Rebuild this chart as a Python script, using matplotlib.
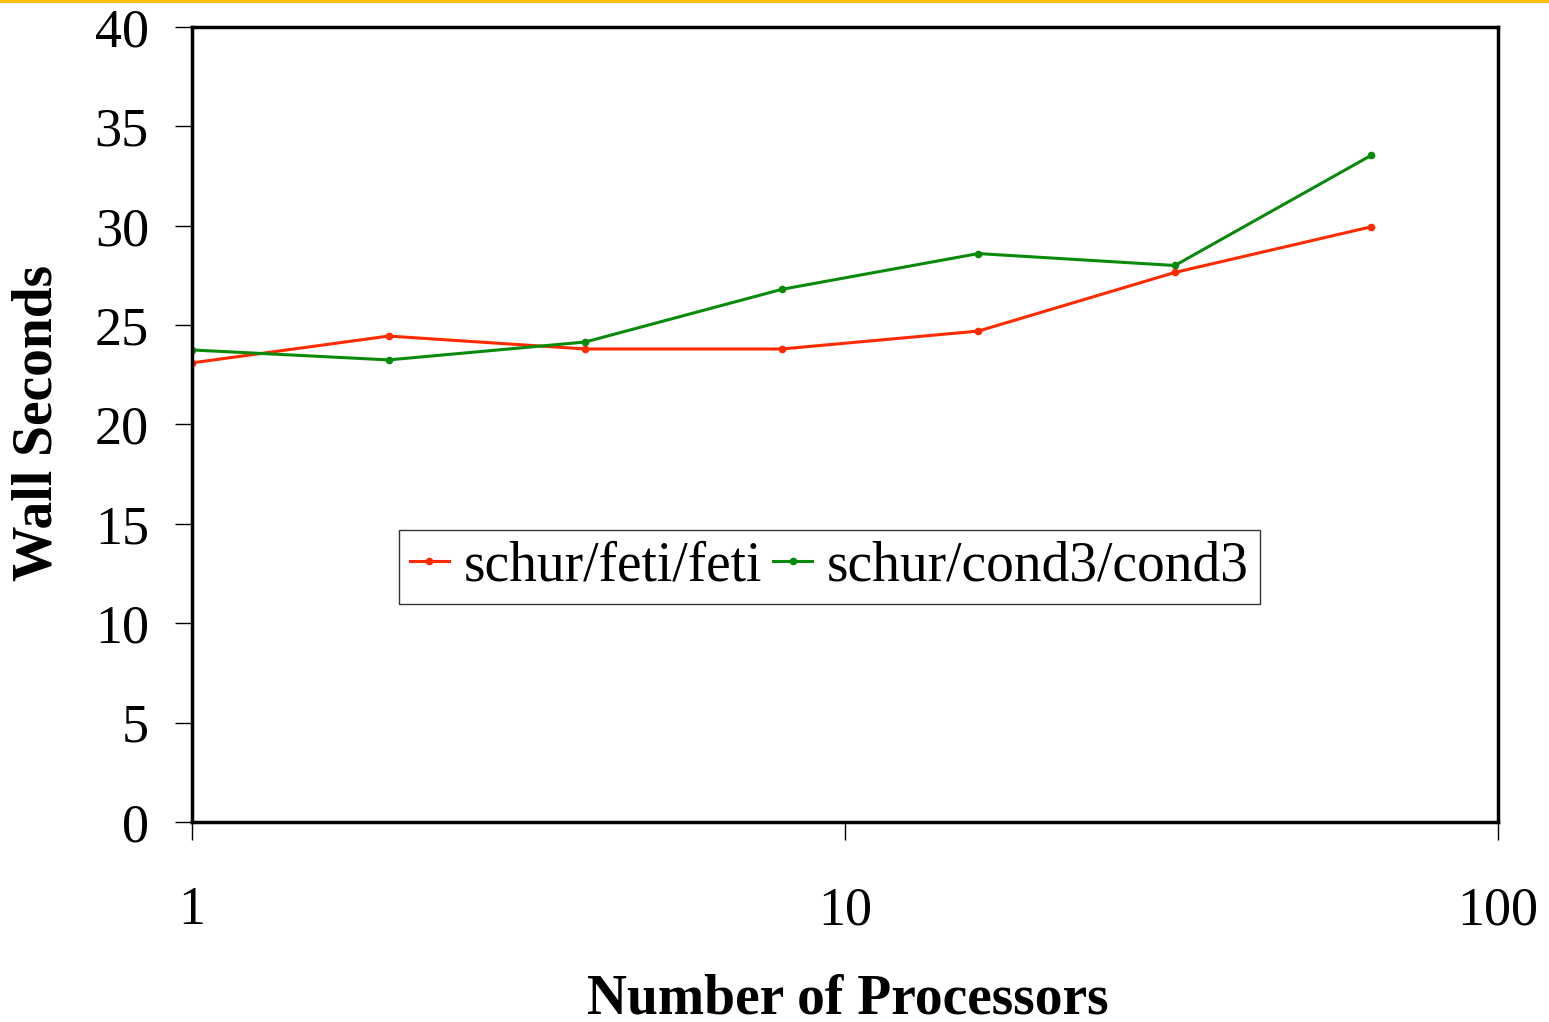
import matplotlib
matplotlib.use("Agg")
import matplotlib.pyplot as plt
from matplotlib.lines import Line2D

processors = [1, 2, 4, 8, 16, 32, 64]
feti = [23.1, 24.45, 23.8, 23.8, 24.7, 27.65, 29.95]
cond3 = [23.75, 23.25, 24.15, 26.8, 28.6, 28.0, 33.55]
series_names = ["schur/feti/feti", "schur/cond3/cond3"]
yticks = [0, 5, 10, 15, 20, 25, 30, 35, 40]
xticks = [1, 10, 100]

plt.rcParams['font.family'] = ['Liberation Serif', 'DejaVu Serif']

fig = plt.figure(figsize=(15.49, 10.22), dpi=100)
ax = fig.add_axes([192/1549, 1-822/1022, (1498-192)/1549, (822-27)/1022])

red = '#FF2A00'
green = '#0A8A0A'
ax.plot(processors, feti, color=red, lw=2.2, marker='o', ms=4.5, label=series_names[0])
ax.plot(processors, cond3, color=green, lw=2.2, marker='o', ms=4.5, label=series_names[1])

ax.set_xscale('log')
ax.set_xlim(1, 100)
ax.set_ylim(0, 40)
ax.set_yticks(yticks)
ax.set_yticklabels([str(v) for v in yticks])
ax.set_xticks(xticks)
ax.set_xticklabels([str(v) for v in xticks])
ax.minorticks_off()
ax.tick_params(axis='both', direction='out', width=1, colors='black', labelsize=39)
ax.tick_params(axis='y', length=12, pad=19)
ax.tick_params(axis='x', length=13, pad=33)
for sp in ax.spines.values():
    sp.set_linewidth(2.5)
    sp.set_color('black')

leg = ax.legend(loc='center', bbox_to_anchor=(0.488, 0.321), ncol=2, fontsize=40,
                frameon=True, fancybox=False, edgecolor='black', handlelength=0.7,
                handletextpad=0.27, columnspacing=0.2, borderpad=0.2, borderaxespad=0)
leg.get_frame().set_linewidth(1.0)

fig.text(38/1549, 1-423/1022, 'Wall Seconds', rotation=90, fontsize=40, fontweight='bold',
         ha='center', va='center')
fig.text(848/1549, 1-999/1022, 'Number of Processors', fontsize=40, fontweight='bold',
         ha='center', va='center')

fig.add_artist(Line2D([0, 1], [1-1.5/1022, 1-1.5/1022], transform=fig.transFigure,
                      color='#FFC000', lw=3))

fig.savefig('out.png', dpi=100)
